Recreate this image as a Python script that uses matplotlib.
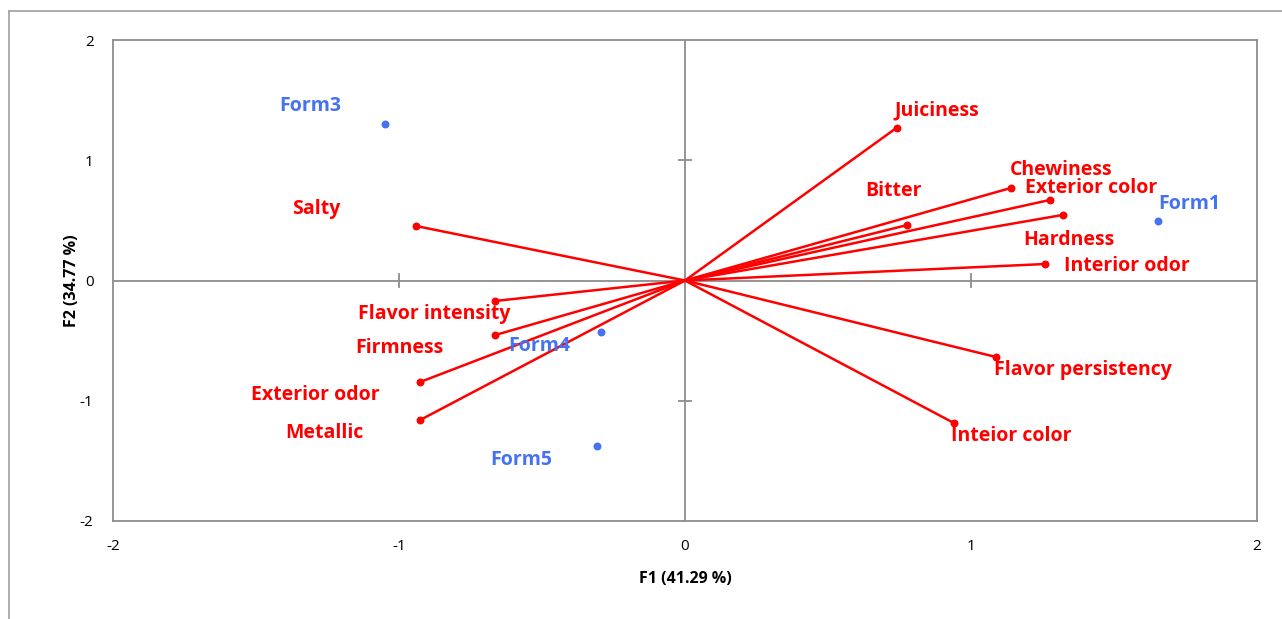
import matplotlib
matplotlib.use("Agg")
import matplotlib.pyplot as plt
from matplotlib.lines import Line2D

# Variables (loadings)
var_names = ["Juiciness", "Chewiness", "Exterior color", "Bitter", "Hardness",
             "Interior odor", "Flavor persistency", "Inteior color", "Salty",
             "Flavor intensity", "Firmness", "Exterior odor", "Metallic"]
var_x = [0.74, 1.14, 1.276, 0.775, 1.32, 1.258, 1.087, 0.94, -0.94,
         -0.663, -0.663, -0.926, -0.926]
var_y = [1.27, 0.77, 0.67, 0.46, 0.545, 0.137, -0.636, -1.185, 0.453,
         -0.17, -0.453, -0.844, -1.16]
var_lx = [0.880, 1.314, 1.419, 0.730, 1.342, 1.545, 1.391, 1.142, -1.290,
          -0.877, -0.999, -1.293, -1.261]
var_ly = [1.41, 0.919, 0.767, 0.744, 0.337, 0.121, -0.744, -1.293, 0.595,
          -0.279, -0.561, -0.952, -1.268]

# Observations
obs_names = ["Form1", "Form3", "Form4", "Form5"]
obs_x = [1.654, -1.048, -0.292, -0.306]
obs_y = [0.495, 1.30, -0.43, -1.376]
obs_lx = [1.762, -1.311, -0.509, -0.572]
obs_ly = [0.636, 1.451, -0.545, -1.493]

ticks = [-2, -1, 0, 1, 2]
xlabel = "F1 (41.29 %)"
ylabel = "F2 (34.77 %)"

RED = "#FF0000"
BLUE = "#4472F0"
GREY = "#8C8C8C"

plt.rcParams['font.family'] = ['Open Sans', 'DejaVu Sans']

fig = plt.figure(figsize=(12.82, 6.19), dpi=100)
# outer chart border (left and top visible)
fig.add_artist(Line2D([9/1282, 9/1282], [0, 1 - 11/619], transform=fig.transFigure,
                      color="#A0A0A0", lw=1.2))
fig.add_artist(Line2D([9/1282, 1], [1 - 11/619, 1 - 11/619], transform=fig.transFigure,
                      color="#A0A0A0", lw=1.2))

ax = fig.add_axes([113/1282, 1 - 521/619, 1144/1282, 481/619])
ax.set_xlim(-2, 2)
ax.set_ylim(-2, 2)
for s in ax.spines.values():
    s.set_color(GREY)
    s.set_linewidth(1.3)

ax.axhline(0, color=GREY, lw=1.3, zorder=1)
ax.axvline(0, color=GREY, lw=1.3, zorder=1)
# crossing tick marks on the zero axes
for t in [-1, 1]:
    ax.plot([t, t], [-0.05, 0.05], color=GREY, lw=1.3, zorder=1)
    ax.plot([-0.021, 0.021], [t, t], color=GREY, lw=1.3, zorder=1)

ax.set_xticks(ticks)
ax.set_yticks(ticks)
ax.set_xticklabels([str(t) for t in ticks], fontsize=11)
ax.set_yticklabels([str(t) for t in ticks], fontsize=11)
ax.tick_params(axis='x', length=0, pad=13)
ax.tick_params(axis='y', length=0, pad=14)

for x, y in zip(var_x, var_y):
    ax.plot([0, x], [0, y], color=RED, lw=1.8, zorder=3)
ax.scatter(var_x, var_y, s=22, color=RED, zorder=4)
for n, lx, ly in zip(var_names, var_lx, var_ly):
    ax.text(lx, ly, n, color=RED, fontsize=14, fontweight='bold',
            ha='center', va='center', zorder=5)

ax.scatter(obs_x, obs_y, s=22, color=BLUE, zorder=4)
for n, lx, ly in zip(obs_names, obs_lx, obs_ly):
    ax.text(lx, ly, n, color=BLUE, fontsize=14, fontweight='bold',
            ha='center', va='center', zorder=5)

ax.set_xlabel(xlabel, fontsize=11.5, fontweight='bold', labelpad=12)
ax.set_ylabel(ylabel, fontsize=11.5, fontweight='bold', labelpad=0)

fig.savefig("out.png", dpi=100)
